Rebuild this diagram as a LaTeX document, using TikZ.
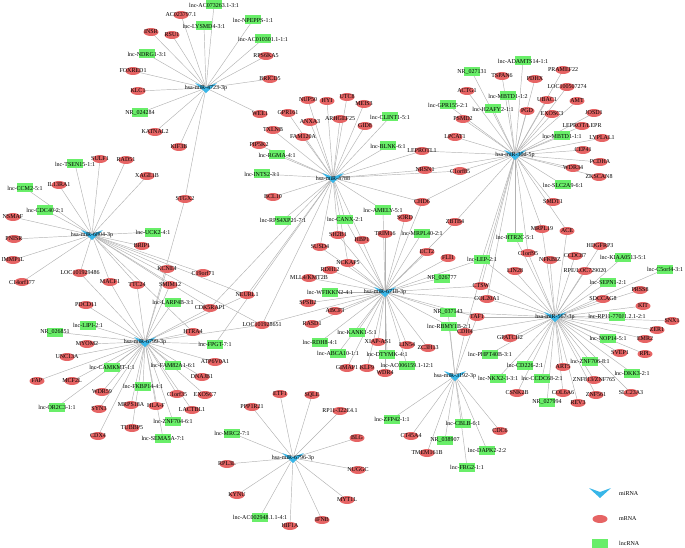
\documentclass[tikz,border=0pt]{standalone}
\usepackage{fontspec}
\setmainfont{Liberation Serif}
\usepackage{tikz}
\usetikzlibrary{shapes.geometric,backgrounds,calc}
\definecolor{mircol}{RGB}{56,182,232}
\definecolor{mrcol}{RGB}{230,100,100}
\definecolor{lnccol}{RGB}{105,238,105}
\definecolor{linkgray}{RGB}{178,178,178}
\begin{document}
\begin{tikzpicture}[x=1pt,y=-1pt,
   lab/.style={font=\fontsize{6}{7}\selectfont,inner sep=0pt},
   mir/.style={rectangle,inner sep=0pt,minimum width=22pt,minimum height=10pt,
               path picture={\fill[mircol] (path picture bounding box.north west)
                 -- ([yshift=-4pt]path picture bounding box.north)
                 -- (path picture bounding box.north east)
                 -- (path picture bounding box.south) -- cycle;},
               label={[lab]center:{#1}}},
   mr/.style={ellipse,fill=mrcol,inner sep=0pt,minimum width=15pt,minimum height=8pt,
              label={[lab]center:{#1}}},
   lnc/.style={rectangle,fill=lnccol,inner sep=0pt,minimum width=16pt,minimum height=9pt,
               label={[lab]center:{#1}}},
   link/.style={draw=linkgray,line width=0.45pt}]
  \useasboundingbox (0,0) rectangle (685,548);
  % miRNA hubs
  \node[mir={hsa-miR-4723-3p}] (m4723) at (206,88) {};
  \node[mir={hsa-miR-4788}] (m4788) at (333,178) {};
  \node[mir={hsa-miR-30d-5p}] (m30d) at (515,155) {};
  \node[mir={hsa-miR-6804-3p}] (m6804) at (92,235) {};
  \node[mir={hsa-miR-6799-3p}] (m6799) at (145,342) {};
  \node[mir={hsa-miR-6718-3p}] (m6718) at (385,292) {};
  \node[mir={hsa-miR-567-3p}] (m567) at (555,317) {};
  \node[mir={hsa-miR-3192-3p}] (m3192) at (455,376) {};
  \node[mir={hsa-miR-6796-3p}] (m6796) at (293,458) {};
  % hsa-miR-4723-3p
  \node[lnc={lnc-AC073263.1-3:1}] (ac073263) at (214,5) {};
  \node[mr={AC023797.1}] (ac023797) at (181,15) {};
  \node[lnc={lnc-LYSMD4-3:1}] (lysmd4) at (204,26) {};
  \node[lnc={lnc-NPEPPS-1:1}] (npepps) at (253,20) {};
  \node[mr={INSR}] (insr) at (151,32) {};
  \node[mr={RSU1}] (rsu1) at (172,35) {};
  \node[lnc={lnc-AC010301.1-1:1}] (ac010301) at (263,39) {};
  \node[mr={RPS6KA5}] (rps6ka5) at (266,56) {};
  \node[lnc={lnc-NDRG1-3:1}] (ndrg1) at (147,54) {};
  \node[mr={FOXRED1}] (foxred1) at (133,71) {};
  \node[mr={BRICD5}] (bricd5) at (270,79) {};
  \node[mr={KLC1}] (klc1) at (138,91) {};
  \node[lnc={NR\_024284}] (nr024284) at (140,113) {};
  \node[mr={WEE1}] (wee1) at (260,114) {};
  \node[mr={KATNAL2}] (katnal2) at (155,132) {};
  \node[mr={KIF3B}] (kif3b) at (179,147) {};
  \node[mr={STGX2}] (stgx2) at (185,199) {};
  % hsa-miR-4788
  \node[mr={NUP50}] (nup50) at (308,100) {};
  \node[mr={HYI}] (hyi) at (327,101) {};
  \node[mr={UTC8}] (utc8) at (347,97) {};
  \node[mr={MEIS3}] (meis3) at (364,104) {};
  \node[mr={GPR161}] (gpr161) at (288,113) {};
  \node[mr={ANXA3}] (anxa3) at (310,122) {};
  \node[mr={ARHGEF25}] (arhgef25) at (340,119) {};
  \node[lnc={lnc-CLINT1-5:1}] (clint1) at (390,117) {};
  \node[mr={GID8}] (gid8) at (365,126) {};
  \node[mr={TXLNB}] (txlnb) at (273,130) {};
  \node[mr={FAM120A}] (fam120a) at (303,137) {};
  \node[mr={PIP5K2}] (pip5k2) at (259,145) {};
  \node[lnc={lnc-RGMA-4:1}] (rgma) at (277,155) {};
  \node[lnc={lnc-BLNK-6:1}] (blnk) at (388,146) {};
  \node[mr={LEPROTL1}] (leprotl1) at (422,151) {};
  \node[mr={NRSN1}] (nrsn1) at (425,170) {};
  \node[mr={C1orf85}] (c1orf85) at (460,171) {};
  \node[lnc={lnc-INTS2-3:1}] (ints2) at (262,174) {};
  \node[mr={BCL10}] (bcl10) at (273,197) {};
  \node[lnc={lnc-RPS4XP21-7:1}] (rps4xp21) at (283,220) {};
  \node[lnc={lnc-CANX-2:1}] (canx) at (345,219) {};
  \node[lnc={lnc-AMELY-5:1}] (amely) at (383,210) {};
  \node[mr={CHD6}] (chd6) at (422,202) {};
  \node[mr={SORD}] (sord) at (405,218) {};
  \node[mr={ZBTB4}] (zbtb4) at (455,222) {};
  % hsa-miR-30d-5p
  \node[lnc={lnc-ADAMTS14-1:1}] (adamts14) at (523,61) {};
  \node[lnc={NR\_027131}] (nr027131) at (472,72) {};
  \node[mr={PRAMEF22}] (pramef22) at (563,70) {};
  \node[mr={TSPAN6}] (tspan6) at (502,76) {};
  \node[mr={PDHX}] (pdhx) at (535,79) {};
  \node[mr={LOC100507274}] (loc100507274) at (567,87) {};
  \node[mr={ACTG1}] (actg1) at (467,91) {};
  \node[lnc={lnc-MBTD1-1:2}] (mbtd1b) at (508,96) {};
  \node[mr={UBAC1}] (ubac1) at (547,100) {};
  \node[mr={AMT}] (amt) at (577,101) {};
  \node[lnc={lnc-GPR155-2:1}] (gpr155) at (448,105) {};
  \node[lnc={lnc-H2AFY2-1:1}] (h2afy2) at (493,109) {};
  \node[mr={PGD}] (pgd) at (527,111) {};
  \node[mr={EXOSC3}] (exosc3) at (552,114) {};
  \node[mr={JOSD1}] (josd1) at (594,113) {};
  \node[mr={PSMD2}] (psmd2) at (463,119) {};
  \node[mr={LEPROT/LEPR}] (leprot) at (582,126) {};
  \node[lnc={lnc-MBTD1-1:1}] (mbtd1a) at (562,136) {};
  \node[mr={LPCAT1}] (lpcat1) at (455,137) {};
  \node[mr={LYPLAL1}] (lyplal1) at (602,138) {};
  \node[mr={CEP41}] (cep41) at (583,150) {};
  \node[mr={PCDHA}] (pcdha) at (600,162) {};
  \node[mr={WDR34}] (wdr34) at (573,168) {};
  \node[mr={ZKSCAN8}] (zkscan8) at (599,177) {};
  \node[lnc={lnc-SLC2A9-6:1}] (slc2a9) at (563,185) {};
  \node[mr={SMDT1}] (smdt1) at (553,202) {};
  \node[mr={MRPL19}] (mrpl19) at (542,229) {};
  \node[mr={ACE}] (ace) at (567,231) {};
  \node[lnc={lnc-HTR2C-5:1}] (htr2c) at (515,237) {};
  % hsa-miR-6804-3p
  \node[lnc={lnc-TSEN15-1:1}] (tsen15) at (75,164) {};
  \node[mr={SULF1}] (sulf1) at (100,159) {};
  \node[mr={RAD51}] (rad51) at (126,160) {};
  \node[mr={XAGE1B}] (xage1b) at (147,176) {};
  \node[lnc={lnc-CCM2-5:1}] (ccm2) at (25,188) {};
  \node[mr={IL13RA1}] (il13ra1) at (59,185) {};
  \node[lnc={lnc-CDC40-2:1}] (cdc40) at (45,210) {};
  \node[mr={NSMAF}] (nsmaf) at (13,217) {};
  \node[mr={PNISR}] (pnisr) at (14,239) {};
  \node[mr={IMMP1L}] (immp1l) at (13,260) {};
  \node[mr={C14orf177}] (c14orf177) at (22,282) {};
  \node[lnc={lnc-UCK2-4:1}] (uck2) at (153,232) {};
  \node[mr={BRIP1}] (brip1) at (142,246) {};
  \node[mr={LOC101929486}] (loc101929486) at (80,273) {};
  \node[mr={MACF1}] (macf1) at (110,282) {};
  \node[mr={TTC24}] (ttc24) at (137,285) {};
  \node[mr={SMIM12}] (smim12) at (170,285) {};
  \node[mr={KCNE4}] (kcne4) at (167,269) {};
  \node[mr={C19orf71}] (c19orf71) at (203,273) {};
  % hsa-miR-6799-3p
  \node[mr={PDCD11}] (pdcd11) at (86,305) {};
  \node[lnc={lnc-LARP4B-3:1}] (larp4b) at (173,302) {};
  \node[mr={CDK5RAP1}] (cdk5rap1) at (210,308) {};
  \node[lnc={lnc-LIPI-2:1}] (lipi) at (88,325) {};
  \node[lnc={NR\_026851}] (nr026851) at (55,332) {};
  \node[mr={HTRA4}] (htra4) at (193,332) {};
  \node[mr={MYOM2}] (myom2) at (87,344) {};
  \node[lnc={lnc-FPGT-7:1}] (fpgt) at (215,344) {};
  \node[mr={UNC13A}] (unc13a) at (67,357) {};
  \node[mr={ATP6V0A1}] (atp6v0a1) at (215,362) {};
  \node[lnc={lnc-FAM82A1-6:1}] (fam82a1) at (173,365) {};
  \node[lnc={lnc-CAMKMT-1:1}] (camkmt) at (112,367) {};
  \node[mr={FAP}] (fap) at (37,381) {};
  \node[mr={MCF2L}] (mcf2l) at (72,381) {};
  \node[mr={DNAJB1}] (dnajb1) at (202,377) {};
  \node[lnc={lnc-FKBP14-4:1}] (fkbp14) at (143,386) {};
  \node[mr={WDR59}] (wdr59) at (102,392) {};
  \node[mr={C1orf35}] (c1orf35) at (177,394) {};
  \node[mr={EXOSC7}] (exosc7) at (205,395) {};
  \node[lnc={lnc-OR2C3-1:1}] (or2c3) at (57,407) {};
  \node[mr={SYN3}] (syn3) at (99,409) {};
  \node[mr={MRPS18A}] (mrps18a) at (131,405) {};
  \node[mr={HLA-F}] (hlaf) at (156,406) {};
  \node[mr={LACTBL1}] (lactbl1) at (192,410) {};
  \node[lnc={lnc-ZNF704-6:1}] (znf704) at (173,421) {};
  \node[mr={TUBBP5}] (tubbp5) at (132,428) {};
  \node[mr={CDX4}] (cdx4) at (98,436) {};
  \node[lnc={lnc-SEMA5A-7:1}] (sema5a) at (163,438) {};
  % hsa-miR-6718-3p
  \node[mr={SH2B1}] (sh2b1) at (338,235) {};
  \node[mr={HBP1}] (hbp1) at (362,240) {};
  \node[mr={TRIM16}] (trim16) at (385,234) {};
  \node[lnc={lnc-MRPL40-2:1}] (mrpl40) at (422,233) {};
  \node[mr={SUSD4}] (susd4) at (320,247) {};
  \node[mr={NCKAP5}] (nckap5) at (348,263) {};
  \node[mr={ECT2}] (ect2) at (427,252) {};
  \node[mr={FLI1}] (fli1) at (448,258) {};
  \node[mr={RDH12}] (rdh12) at (330,270) {};
  \node[mr={MLL4/KMT2B}] (kmt2b) at (309,278) {};
  \node[lnc={lnc-WFIKKN2-4:1}] (wfikkn2) at (330,292) {};
  \node[lnc={NR\_026777}] (nr026777) at (442,278) {};
  \node[mr={NEURL1}] (neurl1) at (247,295) {};
  \node[mr={SPSB2}] (spsb2) at (308,303) {};
  \node[mr={LOC101928651}] (loc101928651) at (262,325) {};
  \node[mr={ABCF3}] (abcf3) at (335,311) {};
  \node[mr={RASD1}] (rasd1) at (312,324) {};
  \node[lnc={lnc-KANK1-5:1}] (kank1) at (357,332) {};
  \node[mr={XIAP-AS1}] (xiap) at (378,342) {};
  \node[mr={LIN54}] (lin54) at (407,345) {};
  \node[mr={ZC3H13}] (zc3h13) at (428,348) {};
  \node[lnc={lnc-RDH8-4:1}] (rdh8) at (320,342) {};
  \node[lnc={lnc-ABCA10-1:1}] (abca10) at (338,353) {};
  \node[lnc={lnc-DTYMK-4:1}] (dtymk) at (387,354) {};
  \node[lnc={lnc-AC006159.1-12:1}] (ac006159) at (407,365) {};
  \node[mr={GIMAP1}] (gimap1) at (347,368) {};
  \node[mr={KLF9}] (klf9) at (367,368) {};
  \node[mr={WDR4}] (wdr4) at (385,373) {};
  \node[lnc={lnc-RBMY1B-2:1}] (rbmy1b) at (449,326) {};
  \node[lnc={NR\_037143}] (nr037143) at (448,312) {};
  \node[mr={CDH4}] (cdh4) at (465,332) {};
  \node[mr={TAF1}] (taf1) at (477,317) {};
  \node[lnc={lnc-LEP-2:1}] (lep) at (482,259) {};
  \node[mr={CTSW}] (ctsw) at (481,286) {};
  \node[mr={COL20A1}] (col20a1) at (487,299) {};
  % hsa-miR-567-3p
  \node[mr={C1orf95}] (c1orf95) at (528,253) {};
  \node[mr={NFKBIZ}] (nfkbiz) at (550,260) {};
  \node[mr={CCDC87}] (ccdc87) at (575,256) {};
  \node[mr={HDGFRP3}] (hdgfrp3) at (600,246) {};
  \node[lnc={lnc-KIAA0513-5:1}] (kiaa0513) at (623,257) {};
  \node[lnc={lnc-C5orf4-3:1}] (c5orf4) at (665,269) {};
  \node[mr={RPE/LOC729020}] (rpe) at (585,271) {};
  \node[mr={LIN28}] (lin28) at (515,271) {};
  \node[lnc={lnc-SEPN1-2:1}] (sepn1) at (608,282) {};
  \node[mr={PRSS8}] (prss8) at (640,290) {};
  \node[mr={SDCCAG8}] (sdccag8) at (603,299) {};
  \node[mr={KIT}] (kit) at (643,306) {};
  \node[lnc={lnc-RP11-770J1.2.1-2:1}] (rp11) at (617,316) {};
  \node[mr={SNX1}] (snx1) at (672,321) {};
  \node[mr={ZER1}] (zer1) at (657,330) {};
  \node[mr={EMR2}] (emr2) at (645,339) {};
  \node[lnc={lnc-NOP14-5:1}] (nop14) at (608,338) {};
  \node[mr={SVEP1}] (svep1) at (620,353) {};
  \node[mr={RPL}] (rpl) at (645,354) {};
  \node[lnc={lnc-ZNF706-8:1}] (znf706) at (590,361) {};
  \node[lnc={lnc-DKK3-2:1}] (dkk3) at (632,373) {};
  \node[mr={ZNF813/ZNF765}] (znf813) at (594,380) {};
  \node[mr={ART5}] (art5) at (563,367) {};
  \node[mr={ZNF561}] (znf561) at (596,395) {};
  \node[mr={SLC23A3}] (slc23a3) at (631,393) {};
  \node[mr={COL6A6}] (col6a6) at (563,393) {};
  \node[mr={REV3}] (rev3) at (578,403) {};
  \node[lnc={NR\_027994}] (nr027994) at (547,402) {};
  \node[lnc={lnc-CCDC68-2:1}] (ccdc68) at (542,378) {};
  \node[lnc={lnc-CD226-2:1}] (cd226) at (525,365) {};
  \node[mr={CSNK2B}] (csnk2b) at (517,393) {};
  \node[lnc={lnc-NKX2-3-3:1}] (nkx23) at (498,378) {};
  \node[lnc={lnc-PHPT40B-3:1}] (phpt40b) at (490,354) {};
  \node[mr={GPATCH2}] (gpatch2) at (510,338) {};
  % hsa-miR-3192-3p
  \node[lnc={lnc-ZFP42-1:1}] (zfp42) at (392,419) {};
  \node[mr={CT45A4}] (ct45a4) at (411,436) {};
  \node[mr={TMEM161B}] (tmem161b) at (427,453) {};
  \node[lnc={NR\_038907}] (nr038907) at (445,440) {};
  \node[lnc={lnc-CBLB-6:1}] (cblb) at (463,423) {};
  \node[mr={CDC6}] (cdc6) at (500,431) {};
  \node[lnc={lnc-DAPK2-2:2}] (dapk2) at (487,450) {};
  \node[lnc={lnc-FRG2-1:1}] (frg2) at (467,467) {};
  % hsa-miR-6796-3p
  \node[mr={ETF1}] (etf1) at (280,394) {};
  \node[mr={SQLE}] (sqle) at (312,395) {};
  \node[mr={PPP1R21}] (ppp1r21) at (252,407) {};
  \node[mr={RP11-322E4.1}] (rp11322) at (340,411) {};
  \node[lnc={lnc-MRC2-7:1}] (mrc2) at (232,433) {};
  \node[mr={BLG}] (blg) at (357,438) {};
  \node[mr={RPL3L}] (rpl3l) at (227,464) {};
  \node[mr={NUGGC}] (nuggc) at (358,470) {};
  \node[mr={KYNU}] (kynu) at (237,495) {};
  \node[mr={MYT1L}] (myt1l) at (347,500) {};
  \node[lnc={lnc-AC002948.1.1-4:1}] (ac002948) at (260,517) {};
  \node[mr={HIF1A}] (hif1a) at (290,526) {};
  \node[mr={IFNB}] (ifnb) at (322,520) {};
  % legend
  \node[mir={}] (keymi) at (600,493) {};
  \node[mr={}] (keymr) at (600,519) {};
  \node[lnc={}] (keylnc) at (600,543) {};
  \node[lab,anchor=west] (keymitxt) at (619,494) {miRNA};
  \node[lab,anchor=west] (keymrtxt) at (619,519) {mRNA};
  \node[lab,anchor=west] (keylnctxt) at (619,543) {lncRNA};
  \begin{scope}[on background layer]
    \foreach \n in {ac073263,ac023797,lysmd4,npepps,insr,rsu1,ac010301,rps6ka5,ndrg1,
        foxred1,bricd5,klc1,nr024284,wee1,katnal2,kif3b,stgx2}
      \draw[link] (m4723.center) -- (\n.center);
    \foreach \n in {nup50,hyi,utc8,meis3,gpr161,anxa3,arhgef25,clint1,gid8,txlnb,fam120a,
        pip5k2,rgma,blnk,leprotl1,nrsn1,c1orf85,ints2,bcl10,rps4xp21,canx,amely,chd6,
        sh2b1,hbp1,susd4,nckap5,neurl1,cdk5rap1,fpgt,loc101928651}
      \draw[link] (m4788.center) -- (\n.center);
    \foreach \n in {adamts14,nr027131,pramef22,tspan6,pdhx,loc100507274,actg1,mbtd1b,ubac1,
        amt,gpr155,h2afy2,pgd,exosc3,josd1,psmd2,leprot,mbtd1a,lpcat1,lyplal1,cep41,pcdha,
        wdr34,zkscan8,slc2a9,smdt1,mrpl19,ace,htr2c,leprotl1,nrsn1,c1orf85,chd6,zbtb4,
        lep,ctsw,col20a1,c1orf95,cdh4}
      \draw[link] (m30d.center) -- (\n.center);
    \foreach \n in {tsen15,sulf1,rad51,xage1b,ccm2,il13ra1,cdc40,nsmaf,pnisr,immp1l,
        c14orf177,uck2,brip1,loc101929486,macf1,ttc24,smim12,kcne4,c19orf71,neurl1,htra4,
        cdk5rap1,loc101928651}
      \draw[link] (m6804.center) -- (\n.center);
    \foreach \n in {pdcd11,larp4b,cdk5rap1,lipi,nr026851,htra4,myom2,fpgt,unc13a,atp6v0a1,
        fam82a1,camkmt,fap,mcf2l,dnajb1,fkbp14,wdr59,c1orf35,exosc7,or2c3,syn3,mrps18a,
        hlaf,lactbl1,znf704,tubbp5,cdx4,sema5a,stgx2,loc101929486,macf1,ttc24,smim12,
        kcne4,loc101928651,neurl1}
      \draw[link] (m6799.center) -- (\n.center);
    \foreach \n in {sh2b1,hbp1,trim16,mrpl40,sord,susd4,nckap5,ect2,fli1,rdh12,kmt2b,
        wfikkn2,nr026777,spsb2,loc101928651,abcf3,rasd1,kank1,xiap,lin54,zc3h13,rdh8,
        abca10,dtymk,ac006159,gimap1,klf9,wdr4,rbmy1b,nr037143,taf1,lep,ctsw,col20a1,
        canx,amely,chd6,zbtb4}
      \draw[link] (m6718.center) -- (\n.center);
    \foreach \n in {c1orf95,nfkbiz,ccdc87,hdgfrp3,kiaa0513,c5orf4,rpe,lin28,sepn1,prss8,
        sdccag8,kit,rp11,snx1,zer1,emr2,nop14,svep1,rpl,znf706,dkk3,znf813,art5,znf561,
        slc23a3,col6a6,rev3,nr027994,ccdc68,cd226,csnk2b,nkx23,phpt40b,gpatch2,mrpl19,
        ace,htr2c,lep,ctsw,col20a1,taf1,cdh4,nr037143}
      \draw[link] (m567.center) -- (\n.center);
    \foreach \n in {zfp42,ct45a4,tmem161b,nr038907,cblb,cdc6,dapk2,frg2,rbmy1b,nr037143,
        cdh4,taf1}
      \draw[link] (m3192.center) -- (\n.center);
    \foreach \n in {etf1,sqle,ppp1r21,rp11322,mrc2,blg,rpl3l,nuggc,kynu,myt1l,ac002948,
        hif1a,ifnb}
      \draw[link] (m6796.center) -- (\n.center);
  \end{scope}
\end{tikzpicture}
\end{document}
